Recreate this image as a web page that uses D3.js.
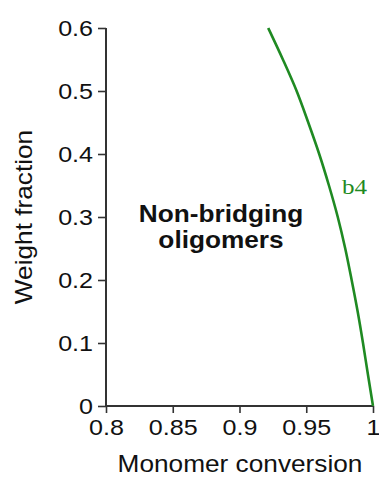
<!DOCTYPE html>
<html>
    <head>
        <meta charset="UTF-8">
        <script src="https://d3js.org/d3.v7.min.js"></script>
        <style>
            body { margin: 0; background: #fff; }
            text { font-family: "Liberation Sans", Arial, sans-serif; }
        </style>
    </head>
    <body>
        <script>
            var w = 379, h = 479;
            var sx = 1.14; // text in the figure looks horizontally stretched

            // b4 curve: monomer conversion vs weight fraction
            var conversion = [0.9215, 0.9325, 0.9428, 0.9515, 0.9597, 0.9670, 0.9736, 0.9792, 0.9840, 0.9885, 0.9925, 0.9962, 1.0];
            var weightFrac = [0.60, 0.55, 0.50, 0.45, 0.40, 0.35, 0.30, 0.25, 0.20, 0.15, 0.10, 0.05, 0.0];
            var xTicks = [0.8, 0.85, 0.9, 0.95, 1];
            var yTicks = [0, 0.1, 0.2, 0.3, 0.4, 0.5, 0.6];
            var seriesName = "b4";

            var green = "#1f8a22";

            var xScale = d3.scaleLinear().domain([0.8, 1]).range([106, 373]);
            var yScale = d3.scaleLinear().domain([0, 0.6]).range([406, 28]);

            var svg = d3.select("body").append("svg")
                    .attr("width", w)
                    .attr("height", h);

            var xAxis = svg.append("g")
                    .attr("transform", "translate(0,406)")
                    .call(d3.axisBottom(xScale).tickValues(xTicks).tickSize(7).tickPadding(6)
                        .tickFormat(function(d){ return String(d); }));
            var yAxis = svg.append("g")
                    .attr("transform", "translate(106,0)")
                    .call(d3.axisLeft(yScale).tickValues(yTicks).tickSize(8).tickPadding(5)
                        .tickFormat(function(d){ return String(d); }));

            svg.selectAll(".domain").attr("stroke", "#333").attr("stroke-width", 2);
            svg.selectAll(".tick line").attr("stroke", "#333").attr("stroke-width", 1.6);
            svg.selectAll(".tick text")
                    .attr("fill", "#111")
                    .style("font-size", "22px")
                    .style("font-family", "'Liberation Sans', Arial, sans-serif");
            // stretch the labels the way the figure does
            xAxis.selectAll(".tick text").attr("transform", "scale(" + sx + ",1)");
            yAxis.selectAll(".tick text").attr("x", -13 / sx).attr("transform", "scale(" + sx + ",1)");
            // no outer caps on the axis lines
            xAxis.select(".domain").attr("d", "M106,0H373");
            yAxis.select(".domain").attr("d", "M0,28V406");

            var pts = conversion.map(function(c, i){ return [c, weightFrac[i]]; });
            var line = d3.line()
                    .x(function(d){ return xScale(d[0]); })
                    .y(function(d){ return yScale(d[1]); })
                    .curve(d3.curveMonotoneY);
            svg.append("path")
                    .datum(pts)
                    .attr("d", line)
                    .attr("fill", "none")
                    .attr("stroke", green)
                    .attr("stroke-width", 2.6);

            svg.append("text")
                    .attr("transform", "translate(342,194) scale(" + sx + ",1)")
                    .attr("fill", green)
                    .style("font-family", "'Liberation Serif', 'Times New Roman', serif")
                    .style("font-size", "22px")
                    .text(seriesName);

            svg.append("text")
                    .attr("transform", "translate(221,222) scale(" + sx + ",1)")
                    .attr("text-anchor", "middle")
                    .style("font-size", "23px")
                    .style("font-weight", "bold")
                    .attr("fill", "#111")
                    .text("Non-bridging");
            svg.append("text")
                    .attr("transform", "translate(221,248) scale(" + sx + ",1)")
                    .attr("text-anchor", "middle")
                    .style("font-size", "23px")
                    .style("font-weight", "bold")
                    .attr("fill", "#111")
                    .text("oligomers");

            svg.append("text")
                    .attr("transform", "translate(240,472) scale(" + sx + ",1)")
                    .attr("text-anchor", "middle")
                    .style("font-size", "23px")
                    .attr("fill", "#111")
                    .text("Monomer conversion");
            svg.append("text")
                    .attr("transform", "translate(32,217) rotate(-90) scale(" + sx + ",1)")
                    .attr("text-anchor", "middle")
                    .style("font-size", "23px")
                    .attr("fill", "#111")
                    .text("Weight fraction");
        </script>
    </body>
</html>
